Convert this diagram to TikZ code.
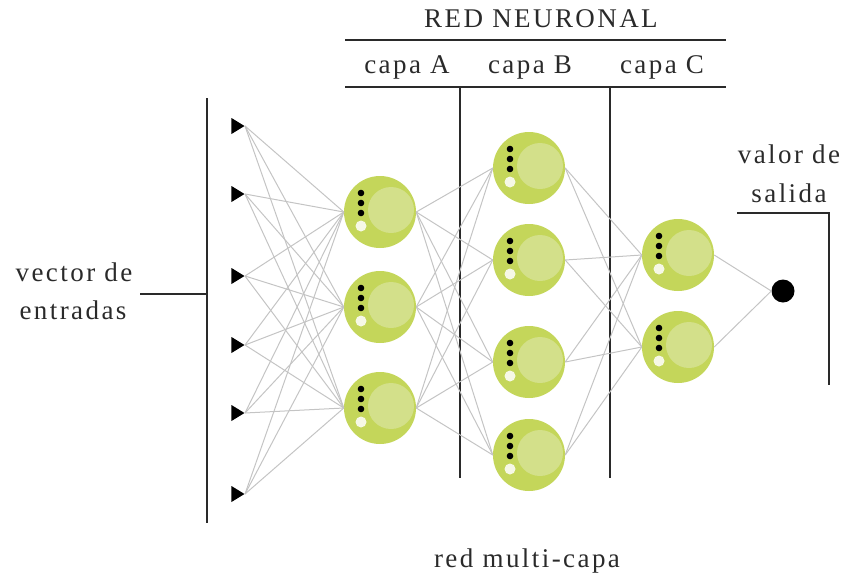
\documentclass[tikz,border=0pt]{standalone}
\usepackage{fontspec}
\setmainfont{Liberation Serif}[LetterSpace=9]
\usetikzlibrary{shapes.geometric}
\definecolor{nout}{HTML}{C4D65A}
\definecolor{nin}{HTML}{D3E08A}
\definecolor{wire}{HTML}{C4C4C4}
\definecolor{ink}{HTML}{2A2A2A}
\begin{document}
\begin{tikzpicture}[x=1pt,y=-1pt,
  lbl/.style={font=\fontsize{27}{30}\selectfont, text=ink, anchor=base, inner sep=0},
  rule/.style={draw=ink, line width=1.8pt},
  wireline/.style={draw=wire, line width=1pt},
  neuron/.style={circle, minimum size=72pt, inner sep=0, fill=nout,
    path picture={
      \fill[nin] ([shift={(11pt,2pt)}]path picture bounding box.center) circle[radius=23pt];
      \fill[black] ([shift={(-19pt,19pt)}]path picture bounding box.center) circle[radius=3.3pt];
      \fill[black] ([shift={(-19pt,9pt)}]path picture bounding box.center) circle[radius=3.3pt];
      \fill[black] ([shift={(-19pt,-1pt)}]path picture bounding box.center) circle[radius=3.3pt];
      \fill[white, opacity=0.85] ([shift={(-19pt,-14pt)}]path picture bounding box.center) circle[radius=5.5pt];
    }},
  inp/.style={isosceles triangle, isosceles triangle stretches, fill=black, inner sep=0, minimum height=13pt, minimum width=16pt, anchor=apex},
  outdot/.style={circle, fill=black, minimum size=23pt, inner sep=0}
]
\useasboundingbox (0,0) rectangle (845,581);

% labels
\node[lbl] (tRed) at (541,27) {RED NEURONAL};
\node[lbl] (tA) at (407,73) {capa A};
\node[lbl] (tB) at (530,73) {capa B};
\node[lbl] (tC) at (662,73) {capa C};
\node[lbl] (tV1) at (74,281) {vector de};
\node[lbl] (tV2) at (73,319) {entradas};
\node[lbl] (tS1) at (789,163) {valor de};
\node[lbl] (tS2) at (789,202) {salida};
\node[lbl] (tM) at (527,567) {red multi-capa};

% rules
\coordinate (h1a) at (345,40); \coordinate (h1b) at (726,40);
\coordinate (h2a) at (345,87); \coordinate (h2b) at (726,87);
\coordinate (v1a) at (460,87); \coordinate (v1b) at (460,478);
\coordinate (v2a) at (610,87); \coordinate (v2b) at (610,478);
\coordinate (ia) at (207,98); \coordinate (ib) at (207,523);
\coordinate (ic) at (140,294); \coordinate (id) at (207,294);
\coordinate (oa) at (737,213); \coordinate (ob) at (829,213); \coordinate (oc) at (829,385);
\draw[rule] (h1a) -- (h1b);
\draw[rule] (h2a) -- (h2b);
\draw[rule] (v1a) -- (v1b);
\draw[rule] (v2a) -- (v2b);
\draw[rule] (ia) -- (ib);
\draw[rule] (ic) -- (id);
\draw[rule] (oa) -- (ob) -- (oc);

% inputs
\foreach \i/\y in {1/126,2/194,3/276,4/345,5/413,6/494}
  \node[inp] (x\i) at (245,\y) {};

% neurons
\node[neuron] (a1) at (380,212) {};
\node[neuron] (a2) at (380,307) {};
\node[neuron] (a3) at (380,408) {};
\node[neuron] (b1) at (529,168) {};
\node[neuron] (b2) at (529,260) {};
\node[neuron] (b3) at (529,362) {};
\node[neuron] (b4) at (529,455) {};
\node[neuron] (c1) at (678,255) {};
\node[neuron] (c2) at (678,347) {};
\node[outdot] (o) at (783,291) {};

% wires
\foreach \i in {1,...,6}
  \foreach \j in {1,2,3}
    \draw[wireline] (x\i.apex) -- (a\j.west);
\foreach \i in {1,2,3}
  \foreach \j in {1,...,4}
    \draw[wireline] (a\i.east) -- (b\j.west);
\foreach \i in {1,...,4}
  \foreach \j in {1,2}
    \draw[wireline] (b\i.east) -- (c\j.west);
\foreach \i in {1,2}
  \draw[wireline] (c\i.east) -- (o.west);
\end{tikzpicture}
\end{document}
